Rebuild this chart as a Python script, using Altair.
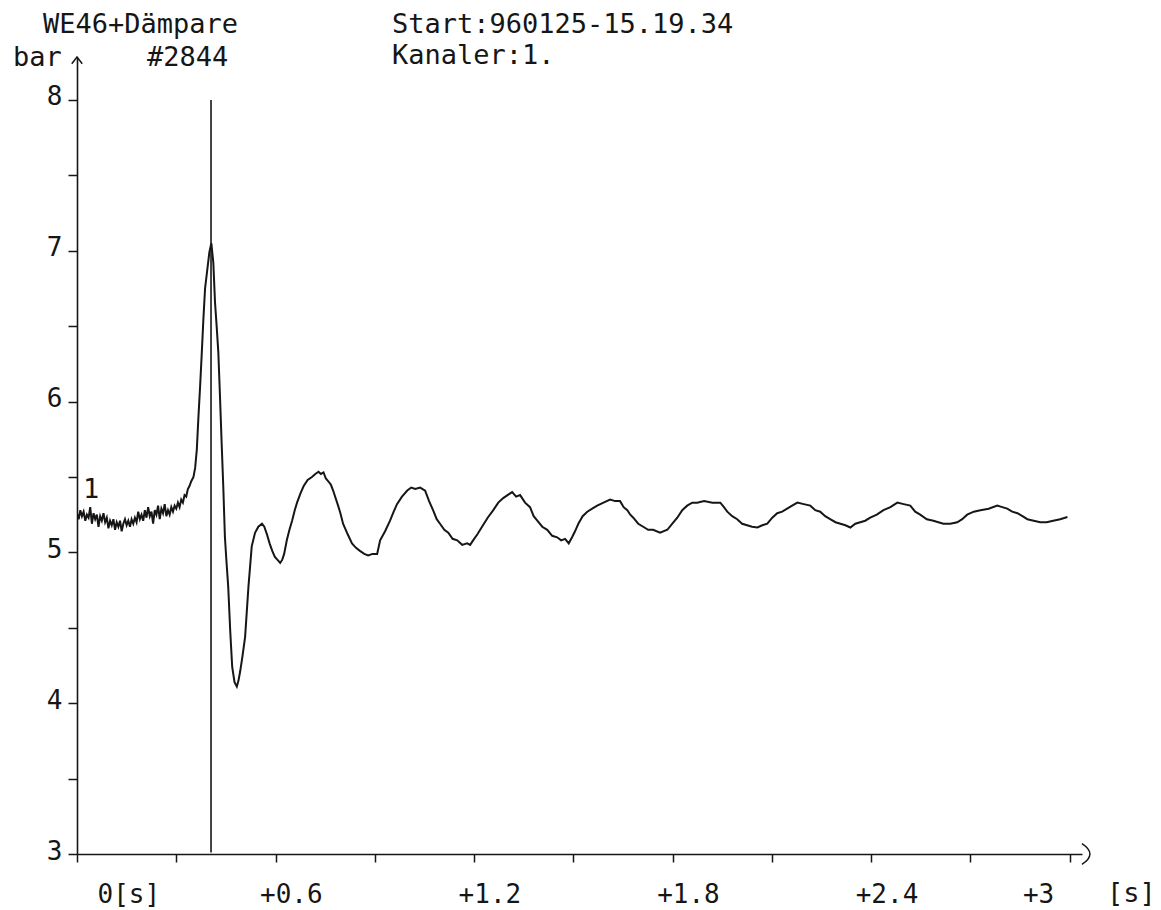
import altair as alt
import pandas as pd

# ---------------- data ----------------
# pressure trace [bar] versus time [s]
t_vals = [
    0.000, 0.005, 0.010, 0.015, 0.020, 0.025, 0.030, 0.035, 0.040, 0.045,
    0.050, 0.055, 0.060, 0.065, 0.070, 0.075, 0.080, 0.085, 0.090, 0.095,
    0.100, 0.105, 0.110, 0.115, 0.120, 0.125, 0.130, 0.135, 0.140, 0.145,
    0.150, 0.155, 0.160, 0.165, 0.170, 0.175, 0.180, 0.185, 0.190, 0.195,
    0.200, 0.205, 0.210, 0.215, 0.220, 0.225, 0.230, 0.235, 0.240, 0.245,
    0.250, 0.255, 0.260, 0.265, 0.270, 0.275, 0.280, 0.285, 0.290, 0.295,
    0.300, 0.305, 0.310, 0.315, 0.320, 0.325, 0.330, 0.335, 0.340, 0.345,
    0.352, 0.357, 0.362, 0.367, 0.372, 0.377, 0.382, 0.387, 0.394, 0.400,
    0.406, 0.412, 0.417, 0.422, 0.427, 0.432, 0.437, 0.442, 0.447, 0.452,
    0.457, 0.463, 0.469, 0.476, 0.483, 0.488, 0.493, 0.500, 0.508, 0.518,
    0.528, 0.538, 0.548, 0.559, 0.566, 0.574, 0.582, 0.590, 0.598, 0.606,
    0.614, 0.620, 0.626, 0.634, 0.642, 0.650, 0.658, 0.665, 0.675, 0.685,
    0.697, 0.710, 0.720, 0.730, 0.737, 0.745, 0.752, 0.760, 0.767, 0.774,
    0.789, 0.796, 0.804, 0.818, 0.831, 0.843, 0.855, 0.868, 0.880, 0.893,
    0.907, 0.916, 0.931, 0.946, 0.957, 0.967, 0.982, 0.998, 1.010, 1.022,
    1.037, 1.052, 1.064, 1.076, 1.087, 1.097, 1.110, 1.122, 1.135, 1.149,
    1.164, 1.179, 1.188, 1.197, 1.210, 1.224, 1.241, 1.258, 1.273, 1.288,
    1.301, 1.315, 1.327, 1.339, 1.354, 1.369, 1.380, 1.391, 1.406, 1.421,
    1.436, 1.451, 1.463, 1.475, 1.486, 1.496, 1.505, 1.515, 1.528, 1.542,
    1.557, 1.572, 1.591, 1.611, 1.626, 1.641, 1.652, 1.663, 1.672, 1.681,
    1.696, 1.711, 1.726, 1.741, 1.762, 1.784, 1.799, 1.814, 1.829, 1.844,
    1.859, 1.874, 1.895, 1.920, 1.944, 1.955, 1.965, 1.980, 1.995, 2.010,
    2.025, 2.040, 2.056, 2.071, 2.086, 2.101, 2.116, 2.131, 2.146, 2.161,
    2.177, 2.196, 2.216, 2.231, 2.246, 2.261, 2.276, 2.292, 2.307, 2.322,
    2.337, 2.352, 2.367, 2.382, 2.397, 2.417, 2.437, 2.458, 2.479, 2.498,
    2.518, 2.533, 2.548, 2.568, 2.588, 2.603, 2.618, 2.639, 2.660, 2.675,
    2.690, 2.710, 2.730, 2.755, 2.781, 2.796, 2.811, 2.826, 2.842, 2.857,
    2.872, 2.891, 2.911, 2.930, 2.950, 2.971, 2.993,
]
p_vals = [
    5.26, 5.22, 5.28, 5.24, 5.27, 5.21, 5.25, 5.23, 5.30, 5.19,
    5.26, 5.22, 5.25, 5.17, 5.24, 5.21, 5.26, 5.20, 5.23, 5.16,
    5.21, 5.18, 5.22, 5.15, 5.20, 5.17, 5.21, 5.14, 5.19, 5.22,
    5.18, 5.21, 5.17, 5.22, 5.19, 5.23, 5.20, 5.27, 5.22, 5.25,
    5.21, 5.28, 5.23, 5.30, 5.24, 5.27, 5.19, 5.28, 5.25, 5.31,
    5.22, 5.29, 5.26, 5.32, 5.24, 5.28, 5.25, 5.30, 5.27, 5.31,
    5.29, 5.33, 5.30, 5.35, 5.33, 5.38, 5.37, 5.42, 5.44, 5.47,
    5.50, 5.56, 5.68, 5.90, 6.10, 6.32, 6.55, 6.75, 6.88, 6.99,
    7.05, 6.92, 6.66, 6.50, 6.33, 6.04, 5.73, 5.44, 5.10, 4.93,
    4.77, 4.48, 4.24, 4.14, 4.11, 4.15, 4.21, 4.31, 4.44, 4.77,
    5.04, 5.13, 5.17, 5.19, 5.17, 5.12, 5.06, 5.01, 4.97, 4.95,
    4.93, 4.95, 4.99, 5.08, 5.15, 5.21, 5.28, 5.33, 5.39, 5.44,
    5.48, 5.50, 5.52, 5.535, 5.52, 5.53, 5.49, 5.47, 5.45, 5.41,
    5.31, 5.26, 5.19, 5.12, 5.06, 5.03, 5.01, 4.99, 4.98, 4.99,
    4.99, 5.08, 5.14, 5.21, 5.27, 5.32, 5.37, 5.41, 5.43, 5.42,
    5.43, 5.41, 5.34, 5.28, 5.22, 5.19, 5.15, 5.13, 5.09, 5.08,
    5.05, 5.06, 5.05, 5.08, 5.12, 5.17, 5.23, 5.28, 5.33, 5.36,
    5.38, 5.40, 5.37, 5.38, 5.33, 5.30, 5.24, 5.21, 5.17, 5.15,
    5.11, 5.10, 5.08, 5.09, 5.06, 5.10, 5.14, 5.19, 5.24, 5.27,
    5.29, 5.31, 5.33, 5.35, 5.34, 5.34, 5.30, 5.28, 5.25, 5.23,
    5.19, 5.17, 5.15, 5.15, 5.13, 5.15, 5.19, 5.23, 5.28, 5.31,
    5.33, 5.33, 5.34, 5.33, 5.33, 5.30, 5.27, 5.24, 5.22, 5.19,
    5.18, 5.17, 5.165, 5.18, 5.19, 5.23, 5.26, 5.27, 5.29, 5.31,
    5.33, 5.32, 5.31, 5.28, 5.27, 5.24, 5.22, 5.20, 5.19, 5.18,
    5.165, 5.19, 5.20, 5.21, 5.23, 5.25, 5.28, 5.30, 5.33, 5.32,
    5.31, 5.27, 5.25, 5.22, 5.21, 5.20, 5.19, 5.19, 5.20, 5.22,
    5.25, 5.27, 5.28, 5.29, 5.31, 5.30, 5.29, 5.27, 5.26, 5.24,
    5.22, 5.21, 5.20, 5.20, 5.21, 5.22, 5.235,
]

# single-sample spike drawn as a vertical line
spike_t = [0.405]
spike_lo = [3.01]
spike_hi = [8.0]

# channel label next to the trace start
chan_t = [0.018]
chan_p = [5.36]
chan_txt = ["1"]

# axes
x_ticks = [0, 0.3, 0.6, 0.9, 1.2, 1.5, 1.8, 2.1, 2.4, 2.7, 3.0]
y_ticks = [3, 3.5, 4, 4.5, 5, 5.5, 6, 6.5, 7, 7.5, 8]
x_domain = [0, 3.037]
y_domain = [3, 8.285]

title_left = "WE46+Dämpare"
title_run = "#2844"
title_start = "Start:960125-15.19.34"
title_chan = "Kanaler:1."
y_unit = "bar"
x_unit = "[s]"

FONT = "DejaVu Sans Mono"
INK = "#161616"

# ---------------- chart ----------------
df = pd.DataFrame({"t": t_vals, "p": p_vals})
df_spike = pd.DataFrame({"t": spike_t, "lo": spike_lo, "hi": spike_hi})
df_chan = pd.DataFrame({"t": chan_t, "p": chan_p, "txt": chan_txt})
df_yarrow = pd.DataFrame({"t": [x_domain[0]], "p": [y_domain[1]]})
df_xarrow = pd.DataFrame({"t": [3.061], "p": [y_domain[0]]})

xscale = alt.Scale(domain=x_domain, nice=False, zero=False)
yscale = alt.Scale(domain=y_domain, nice=False, zero=False)

x_axis = alt.Axis(
    values=x_ticks,
    title="",
    grid=False,
    domainColor=INK,
    domainWidth=1.6,
    tickColor=INK,
    tickWidth=1.5,
    tickSize=8,
    labelFont=FONT,
    labelFontSize=26,
    labelColor=INK,
    labelBaseline="alphabetic",
    labelPadding=40,
    labelFlush=False,
    labelOverlap=False,
    labelExpr="datum.value == 0 ? '0[s]' : (round(datum.value*10) % 6 == 0 ? '+' + format(datum.value, '.1~f') : '')",
    labelAlign={"condition": {"test": "datum.value == 3", "value": "right"}, "value": "left"},
    labelOffset={"condition": {"test": "datum.value == 0", "value": 20}, "value": -16},
)
y_axis = alt.Axis(
    values=y_ticks,
    title="",
    grid=False,
    domainColor=INK,
    domainWidth=1.6,
    tickColor=INK,
    tickWidth=1.5,
    tickSize=9,
    labelFont=FONT,
    labelFontSize=26,
    labelColor=INK,
    labelBaseline="middle",
    labelPadding=6,
    labelOffset=-3,
    labelFlush=False,
    labelOverlap=False,
    labelExpr="datum.value % 1 == 0 ? format(datum.value, 'd') : ''",
)

base = alt.Chart(df)

trace = base.mark_line(color=INK, strokeWidth=2.0, clip=True).encode(
    x=alt.X("t:Q", scale=xscale, axis=x_axis),
    y=alt.Y("p:Q", scale=yscale, axis=y_axis),
)

spike = alt.Chart(df_spike).mark_rule(color=INK, strokeWidth=1.6).encode(
    x=alt.X("t:Q", scale=xscale),
    y=alt.Y("lo:Q", scale=yscale),
    y2="hi:Q",
)

chan = alt.Chart(df_chan).mark_text(
    font=FONT, fontSize=27, color=INK, align="left", baseline="alphabetic"
).encode(
    x=alt.X("t:Q", scale=xscale),
    y=alt.Y("p:Q", scale=yscale),
    text="txt:N",
)

yarrow = alt.Chart(df_yarrow).mark_point(
    shape="M-1,1.3L0,0L1,1.3", filled=False, stroke=INK, strokeWidth=1.5, size=110, opacity=1
).encode(x=alt.X("t:Q", scale=xscale), y=alt.Y("p:Q", scale=yscale))

xarrow = alt.Chart(df_xarrow).mark_point(
    shape="M-1,-1.3Q1,0 -1,1.3", filled=False, stroke=INK, strokeWidth=1.5, size=256, opacity=1
).encode(x=alt.X("t:Q", scale=xscale), y=alt.Y("p:Q", scale=yscale))


def label(txt, px, py):
    return alt.Chart(pd.DataFrame({"s": [txt]})).mark_text(
        font=FONT, fontSize=27, color=INK, align="left", baseline="alphabetic"
    ).encode(x=alt.value(px), y=alt.value(py), text="s:N")


texts = [
    label(title_left, -34, -24),
    label(y_unit, -64, 9),
    label(title_run, 70, 9),
    label(title_start, 315, -24),
    label(title_chan, 315, 7),
    label(x_unit, 1030, 845),
]

chart = alt.layer(trace, spike, chan, yarrow, xarrow, *texts).properties(
    width=1005,
    height=797,
    autosize=alt.AutoSizeParams(type="none"),
    padding={"left": 77, "top": 57, "right": 79, "bottom": 56},
    background="white",
).configure_view(stroke=None)

chart.save("out.html", embed_options={"renderer": "svg", "actions": False})
